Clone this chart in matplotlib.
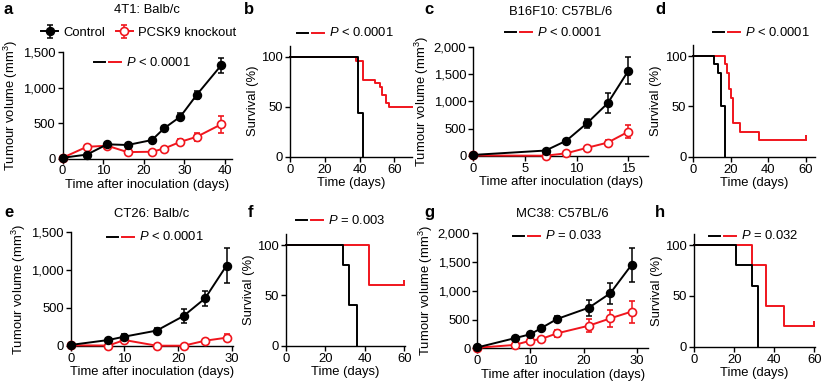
import matplotlib
matplotlib.use("Agg")
import matplotlib.pyplot as plt
from matplotlib.lines import Line2D
from matplotlib.ticker import FuncFormatter

plt.rcParams['font.family'] = ['Liberation Sans', 'DejaVu Sans']
plt.rcParams['mathtext.fontset'] = 'custom'
plt.rcParams['mathtext.rm'] = 'Liberation Sans'
plt.rcParams['mathtext.it'] = 'Liberation Sans:italic'
plt.rcParams['font.size'] = 9.4

RED = '#F0151D'
BLACK = '#000000'

# ---------------- data ----------------
# a: 4T1 Balb/c tumour growth
a_days = [0, 6, 11, 16, 22, 25, 29, 33, 39]
a_ctrl = [10, 55, 200, 190, 260, 425, 590, 895, 1310]
a_ctrl_err = [5, 10, 15, 15, 20, 30, 45, 60, 110]
a_ko = [10, 165, 180, 90, 95, 140, 235, 305, 480]
a_ko_err = [5, 15, 15, 10, 10, 15, 40, 60, 120]

# b: 4T1 survival
b_ctrl_t = [0, 39, 42]
b_ctrl_s = [100, 44, 0]
b_ko_t = [0, 38, 42, 49, 52, 53, 55, 57, 70]
b_ko_s = [100, 96, 77, 74, 70, 62, 54, 50, 50]

# c: B16F10 C57BL/6 tumour growth
c_days = [0, 7, 9, 11, 13, 15]
c_ctrl = [20, 100, 280, 600, 965, 1560]
c_ctrl_err = [5, 15, 30, 80, 180, 250]
c_ko = [10, 5, 50, 150, 245, 445]
c_ko_err = [3, 3, 10, 20, 45, 120]

# d: B16F10 survival
d_ctrl_t = [0, 11, 13, 15, 17]
d_ctrl_s = [100, 92, 83, 50, 0]
d_ko_t = [0, 17, 18, 19, 20, 21, 25, 35, 60]
d_ko_s = [100, 92, 83, 67, 58, 33, 25, 17, 17]

# e: CT26 Balb/c tumour growth
e_days = [0, 7, 10, 16, 21, 25, 29]
e_ctrl = [10, 75, 120, 200, 393, 626, 1060]
e_ctrl_err = [5, 15, 30, 30, 95, 95, 230]
e_ko = [5, 2, 75, 0, 0, 66, 106]
e_ko_err = [2, 2, 10, 2, 2, 15, 50]

# f: CT26 survival
f_ctrl_t = [0, 29, 32, 36]
f_ctrl_s = [100, 80, 40, 0]
f_ko_t = [0, 42, 60]
f_ko_s = [100, 60, 60]

# g: MC38 C57BL/6 tumour growth
g_days = [0, 7, 10, 12, 15, 21, 25, 29]
g_ctrl = [15, 175, 245, 350, 510, 707, 957, 1450]
g_ctrl_err = [5, 20, 25, 30, 50, 140, 180, 300]
g_ko = [10, 58, 133, 162, 260, 394, 520, 638]
g_ko_err = [5, 10, 15, 20, 60, 110, 150, 190]

# h: MC38 survival
h_ctrl_t = [0, 21, 29, 32]
h_ctrl_s = [100, 80, 60, 0]
h_ko_t = [0, 29, 36, 45, 60]
h_ko_s = [100, 80, 40, 20, 20]

W, H = 827, 390
fig = plt.figure(figsize=(W / 100, H / 100), dpi=100)


def axes_px(left, right, top, bottom):
    return fig.add_axes([left / W, 1 - bottom / H, (right - left) / W, (bottom - top) / H])


def style(ax):
    for s in ['top', 'right']:
        ax.spines[s].set_visible(False)
    for s in ['left', 'bottom']:
        ax.spines[s].set_linewidth(1.0)
    ax.tick_params(direction='out', length=3.5, width=1.0, pad=1.5)


comma = FuncFormatter(lambda v, p: f"{int(v):,}")


def growth(ax, days, ctrl, cerr, ko, kerr, xlim, xticks, ylim, yticks):
    ax.errorbar(days, ko, yerr=kerr, color=RED, marker='o', mfc='white', mec=RED,
                ms=5.8, mew=1.2, lw=1.4, capsize=2.5, elinewidth=1.1, capthick=1.1,
                clip_on=False, zorder=3, label='PCSK9 knockout')
    ax.errorbar(days, ctrl, yerr=cerr, color=BLACK, marker='o', mfc=BLACK, mec=BLACK,
                ms=5.8, lw=1.4, capsize=2.5, elinewidth=1.1, capthick=1.1,
                clip_on=False, zorder=4, label='Control')
    ax.set_xlim(*xlim)
    ax.set_xticks(xticks)
    ax.set_ylim(*ylim)
    ax.set_yticks(yticks)
    ax.yaxis.set_major_formatter(comma)
    ax.set_xlabel('Time after inoculation (days)', labelpad=1)
    ax.set_ylabel('Tumour volume (mm$^3$)', labelpad=2)
    style(ax)


def survival(ax, ct, cs, kt, ks, xlim, censor=True):
    ax.step(kt, ks, where='post', color=RED, lw=1.4, clip_on=False, zorder=3)
    if censor:
        ax.plot([kt[-1]], [ks[-1]], marker=2, color=RED, ms=3.5, mew=1.4,
                clip_on=False, zorder=3)
    ax.step(ct, cs, where='post', color=BLACK, lw=1.4, clip_on=False, zorder=4)
    ax.set_xlim(*xlim)
    ax.set_xticks([0, 20, 40, 60])
    ax.set_ylim(0, 111)
    ax.set_yticks([0, 50, 100])
    ax.set_xlabel('Time (days)', labelpad=1)
    ax.set_ylabel('Survival (%)', labelpad=2)
    style(ax)


def plabel(x0, y, text):
    yy = 1 - y / H
    fig.add_artist(Line2D([x0 / W, (x0 + 11) / W], [yy, yy], color=BLACK, lw=1.4))
    fig.add_artist(Line2D([(x0 + 15) / W, (x0 + 27) / W], [yy, yy], color=RED, lw=1.4))
    fig.text((x0 + 32) / W, yy, text, ha='left', va='center', fontsize=9.4)


def letter(x, y, s):
    fig.text(x / W, 1 - y / H, s, fontsize=12, fontweight='bold', ha='left', va='center')


def title(ax, y, s):
    pos = ax.get_position()
    fig.text(pos.x0 + pos.width / 2, 1 - y / H, s, ha='center', va='center', fontsize=9.4)


# a
axa = axes_px(62.5, 232, 52, 158.5)
growth(axa, a_days, a_ctrl, a_ctrl_err, a_ko, a_ko_err, (0, 41.7), [0, 10, 20, 30, 40],
       (0, 1500), [0, 500, 1000, 1500])
h_, l_ = axa.get_legend_handles_labels()
axa.legend(h_[::-1], l_[::-1], ncol=2, frameon=False, loc='center',
           bbox_to_anchor=(0.45, 1.18), handlelength=1.3, handletextpad=0.4,
           columnspacing=0.8, borderaxespad=0, fontsize=9.4)
title(axa, 10, '4T1: Balb/c')
plabel(94, 62, '$P$ < 0.0001')
letter(4, 10, 'a')

# b
axb = axes_px(290, 411.7, 45.7, 156.7)
survival(axb, b_ctrl_t, b_ctrl_s, b_ko_t, b_ko_s, (0, 70), censor=False)
plabel(297, 33, '$P$ < 0.0001')
letter(244, 10, 'b')

# c
axc = axes_px(473.3, 648, 46.7, 156)
growth(axc, c_days, c_ctrl, c_ctrl_err, c_ko, c_ko_err, (0, 16.9), [0, 5, 10, 15],
       (0, 2000), [0, 500, 1000, 1500, 2000])
title(axc, 12, 'B16F10: C57BL/6')
plabel(505, 32, '$P$ < 0.0001')
letter(424, 10, 'c')

# d
axd = axes_px(693.3, 815, 45, 156.7)
survival(axd, d_ctrl_t, d_ctrl_s, d_ko_t, d_ko_s, (0, 65))
plabel(713, 32, '$P$ < 0.0001')
letter(655, 10, 'd')

# e
axe = axes_px(70.7, 233, 232.3, 345.7)
growth(axe, e_days, e_ctrl, e_ctrl_err, e_ko, e_ko_err, (0, 30.2), [0, 10, 20, 30],
       (0, 1500), [0, 500, 1000, 1500])
title(axe, 214, 'CT26: Balb/c')
plabel(107, 237, '$P$ < 0.0001')
letter(4, 213, 'e')

# f
axf = axes_px(286, 405, 234, 345.7)
survival(axf, f_ctrl_t, f_ctrl_s, f_ko_t, f_ko_s, (0, 60.4))
plabel(296, 220, '$P$ = 0.003')
letter(248, 213, 'f')

# g
axg = axes_px(477.3, 648, 233.3, 348.3)
growth(axg, g_days, g_ctrl, g_ctrl_err, g_ko, g_ko_err, (0, 32.1), [0, 10, 20, 30],
       (0, 2000), [0, 500, 1000, 1500, 2000])
title(axg, 214, 'MC38: C57BL/6')
plabel(513, 236, '$P$ = 0.033')
letter(424, 213, 'g')

# h
axh = axes_px(694, 815, 234, 346.7)
survival(axh, h_ctrl_t, h_ctrl_s, h_ko_t, h_ko_s, (0, 60.3))
plabel(709, 236, '$P$ = 0.032')
letter(655, 213, 'h')

fig.savefig('out.png', dpi=100)
